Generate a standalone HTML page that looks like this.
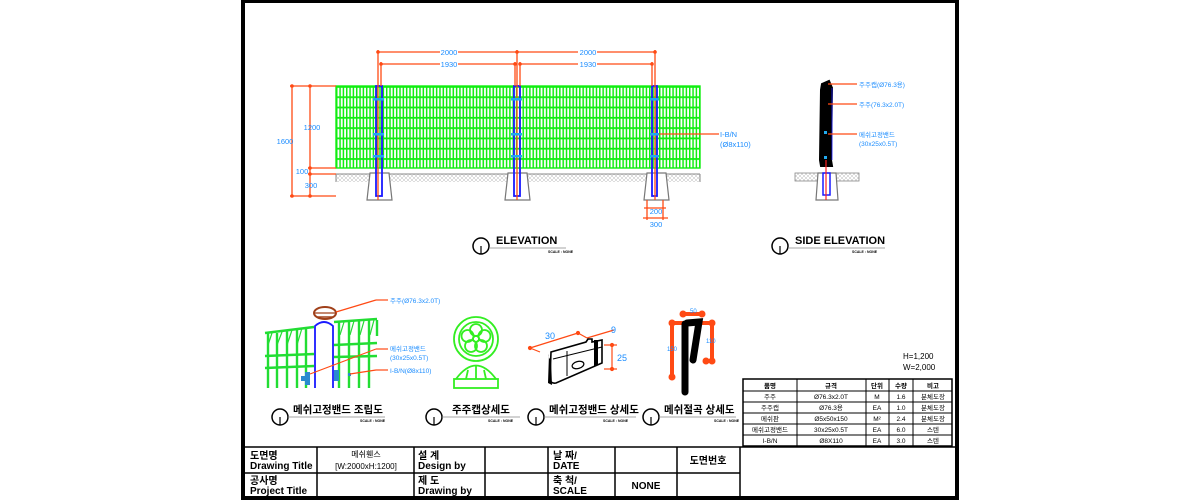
<!DOCTYPE html>
<html><head><meta charset="utf-8"><style>
html,body{margin:0;padding:0;background:#fff;}
svg{display:block;font-family:"Liberation Sans","Noto Sans CJK KR",sans-serif;}
</style></head><body>
<svg width="1200" height="500" viewBox="0 0 1200 500" xmlns="http://www.w3.org/2000/svg">
<defs>
<pattern id="mesh" x="336" y="86" width="3.33" height="10.3" patternUnits="userSpaceOnUse">
<rect x="0" y="0" width="1.5" height="10.3" fill="#11ee11"/>
<rect x="0" y="0" width="3.33" height="1.8" fill="#11ee11"/>
</pattern>
<pattern id="hatch" width="4" height="4" patternUnits="userSpaceOnUse">
<path d="M0 4L4 0M0 0L4 4" stroke="#bbb" stroke-width="0.5"/>
</pattern>
</defs>
<rect x="243" y="1" width="714" height="497" fill="#fff" stroke="#000" stroke-width="4"/>

<!-- ELEVATION -->
<rect x="336" y="86" width="364" height="82" fill="url(#mesh)"/>
<rect x="336" y="86" width="364" height="82" fill="none" stroke="#11ee11" stroke-width="1.4"/>
<rect x="336" y="174" width="364" height="8" fill="url(#hatch)"/>
<line x1="336" y1="174" x2="700" y2="174" stroke="#888" stroke-width="1"/>
<line x1="336" y1="174" x2="336" y2="182" stroke="#888"/><line x1="700" y1="174" x2="700" y2="182" stroke="#888"/>
<g stroke="#777" stroke-width="1.2" fill="#fff">
<path d="M370 173 L389 173 L392 200 L367 200 Z"/>
<path d="M508 173 L527 173 L530 200 L505 200 Z"/>
<path d="M647 173 L666 173 L669 200 L644 200 Z"/>
</g>
<g fill="none" stroke="#1a1aff" stroke-width="1.8">
<rect x="376" y="86" width="6" height="110"/>
<rect x="514" y="86" width="6" height="110"/>
<rect x="652" y="86" width="5" height="110"/>
</g>
<g stroke="#ff4a14" stroke-width="1.3">
<line x1="378" y1="50" x2="378" y2="200"/><line x1="517" y1="50" x2="517" y2="200"/><line x1="655" y1="50" x2="655" y2="200"/>
<line x1="381" y1="62" x2="381" y2="86"/><line x1="515" y1="62" x2="515" y2="86"/><line x1="520" y1="62" x2="520" y2="86"/><line x1="652" y1="62" x2="652" y2="86"/>
<line x1="378" y1="52" x2="440" y2="52"/><line x1="458" y1="52" x2="578" y2="52"/><line x1="597" y1="52" x2="655" y2="52"/>
<line x1="381" y1="64" x2="440" y2="64"/><line x1="458" y1="64" x2="515" y2="64"/><line x1="520" y1="64" x2="578" y2="64"/><line x1="597" y1="64" x2="652" y2="64"/>
<line x1="292" y1="86" x2="292" y2="196"/><line x1="310" y1="86" x2="310" y2="196"/>
<line x1="290" y1="86" x2="336" y2="86"/><line x1="308" y1="168" x2="336" y2="168"/>
<line x1="308" y1="174" x2="336" y2="174"/><line x1="290" y1="196" x2="336" y2="196"/>
<line x1="647" y1="200" x2="647" y2="220"/><line x1="663" y1="200" x2="663" y2="220"/>
<line x1="644" y1="208" x2="666" y2="208"/><line x1="643" y1="218" x2="668" y2="218"/>
<line x1="657" y1="134" x2="719" y2="134"/>
</g>
<g fill="#ff4a14">
<circle cx="378" cy="52" r="1.8"/><circle cx="517" cy="52" r="1.8"/><circle cx="655" cy="52" r="1.8"/>
<circle cx="381" cy="64" r="1.8"/><circle cx="515" cy="64" r="1.8"/><circle cx="520" cy="64" r="1.8"/><circle cx="652" cy="64" r="1.8"/>
<circle cx="292" cy="86" r="1.8"/><circle cx="310" cy="86" r="1.8"/><circle cx="310" cy="168" r="1.8"/><circle cx="310" cy="174" r="1.8"/><circle cx="292" cy="196" r="1.8"/><circle cx="310" cy="196" r="1.8"/>
</g>
<g fill="#22aaee">
<rect x="373" y="98" width="11" height="2.5"/><rect x="373" y="133" width="11" height="2.5"/><rect x="373" y="155" width="11" height="2.5"/>
<rect x="511" y="98" width="11" height="2.5"/><rect x="511" y="133" width="11" height="2.5"/><rect x="511" y="155" width="11" height="2.5"/>
<rect x="650" y="98" width="9" height="2.5"/><rect x="650" y="133" width="9" height="2.5"/><rect x="650" y="155" width="9" height="2.5"/>
</g>
<g fill="#1a8cff" font-size="7.5" text-anchor="middle">
<text x="449" y="55">2000</text><text x="588" y="55">2000</text>
<text x="449" y="67">1930</text><text x="588" y="67">1930</text>
<text x="285" y="144">1600</text><text x="312" y="130">1200</text>
<text x="302" y="174">100</text><text x="311" y="188">300</text>
<text x="656" y="214">200</text><text x="656" y="227">300</text>
<text x="720" y="137" text-anchor="start">I-B/N</text><text x="720" y="147" text-anchor="start">(Ø8x110)</text>
</g>
<g>
<circle cx="481" cy="246" r="8" fill="none" stroke="#000" stroke-width="1.5"/>
<line x1="481" y1="246" x2="481" y2="254" stroke="#000" stroke-width="1.2"/>
<text x="496" y="244" font-size="11" font-weight="bold">ELEVATION</text>
<line x1="489" y1="248" x2="566" y2="248" stroke="#888" stroke-width="0.8"/>
<text x="548" y="253" font-size="3.5" font-weight="bold">SCALE : NONE</text>
</g>

<!-- SIDE ELEVATION -->
<rect x="795" y="173" width="64" height="8" fill="url(#hatch)" stroke="#888" stroke-width="0.8"/>
<path d="M818 173 L836 173 L838 200 L816 200 Z" fill="#fff" stroke="#777" stroke-width="1.2"/>
<rect x="823" y="173" width="7" height="22" fill="none" stroke="#1a1aff" stroke-width="1.5"/>
<path d="M822 84 L829 81 L832 88 L831 160 L832 166 L821 166 L820 160 L821 90 Z" fill="#000" stroke="#000" stroke-width="2"/>
<line x1="832" y1="88" x2="832" y2="160" stroke="#1a1aff" stroke-width="0.8"/>
<line x1="826" y1="160" x2="826" y2="200" stroke="#ff2020" stroke-width="1.2"/>
<rect x="824" y="131" width="3" height="3" fill="#22aaee"/><rect x="824" y="156" width="3" height="3" fill="#22aaee"/>
<g stroke="#ff4a14" stroke-width="1.2">
<line x1="828" y1="84" x2="857" y2="84"/><line x1="828" y1="104" x2="857" y2="104"/><line x1="828" y1="134" x2="857" y2="134"/>
</g>
<g fill="#1a8cff" font-size="6.5">
<text x="859" y="87">주주캡(Ø76.3용)</text><text x="859" y="107">주주(76.3x2.0T)</text>
<text x="859" y="137">메쉬고정밴드</text><text x="859" y="146">(30x25x0.5T)</text>
</g>
<g>
<circle cx="780" cy="246" r="8" fill="none" stroke="#000" stroke-width="1.5"/>
<line x1="780" y1="246" x2="780" y2="254" stroke="#000" stroke-width="1.2"/>
<text x="795" y="244" font-size="11" font-weight="bold">SIDE ELEVATION</text>
<line x1="788" y1="248" x2="885" y2="248" stroke="#888" stroke-width="0.8"/>
<text x="852" y="253" font-size="3.5" font-weight="bold">SCALE : NONE</text>
</g>

<!-- Assembly detail -->
<g stroke="#22dd33" stroke-width="2.4">
<line x1="268" y1="333" x2="268" y2="388"/><line x1="277" y1="333" x2="277" y2="388"/><line x1="287" y1="331" x2="287" y2="388"/><line x1="297" y1="329" x2="297" y2="388"/><line x1="306" y1="327" x2="306" y2="388"/>
<line x1="265" y1="333" x2="314" y2="327"/><line x1="265" y1="356" x2="314" y2="354"/><line x1="265" y1="368" x2="314" y2="366"/>
<line x1="339" y1="322" x2="339" y2="388"/><line x1="349" y1="322" x2="349" y2="388"/><line x1="359" y1="321" x2="359" y2="388"/><line x1="369" y1="320" x2="369" y2="388"/><line x1="377" y1="320" x2="377" y2="336"/>
<line x1="334" y1="322" x2="377" y2="319"/><line x1="334" y1="345" x2="377" y2="343"/><line x1="334" y1="357" x2="377" y2="356"/>
</g>
<g stroke="#22dd33" stroke-width="1.2">
<line x1="272" y1="333" x2="268" y2="345"/><line x1="282" y1="332" x2="277" y2="345"/><line x1="292" y1="330" x2="287" y2="345"/><line x1="302" y1="328" x2="297" y2="345"/>
<line x1="344" y1="322" x2="340" y2="335"/><line x1="354" y1="321" x2="350" y2="335"/><line x1="364" y1="321" x2="360" y2="335"/><line x1="374" y1="320" x2="370" y2="335"/>
</g>
<path d="M315 388 L315 326 Q324 318 333 326 L333 388" fill="#fff" stroke="#1a1aff" stroke-width="1.8"/>
<ellipse cx="325" cy="313" rx="11" ry="6" fill="#fff" stroke="#a0401a" stroke-width="2"/>
<line x1="315" y1="313" x2="335" y2="313" stroke="#a0401a" stroke-width="1.2"/><line x1="317" y1="317" x2="333" y2="317" stroke="#a0401a" stroke-width="1.5"/>
<g fill="#2a8ad0"><rect x="301" y="376" width="9" height="5"/><rect x="305" y="372" width="5" height="13"/><rect x="334" y="370" width="5" height="11"/><rect x="348" y="373" width="3" height="3"/></g>
<g stroke="#ff4a14" stroke-width="1.2">
<line x1="336" y1="312" x2="376" y2="300"/><line x1="376" y1="300" x2="388" y2="300"/>
<line x1="310" y1="374" x2="376" y2="349"/><line x1="376" y1="349" x2="388" y2="349"/>
<line x1="350" y1="374" x2="376" y2="370"/><line x1="376" y1="370" x2="388" y2="370"/>
</g>
<g fill="#1a8cff" font-size="6.5">
<text x="390" y="303">주주(Ø76.3x2.0T)</text><text x="390" y="351">메쉬고정밴드</text><text x="390" y="360">(30x25x0.5T)</text><text x="390" y="373">I-B/N(Ø8x110)</text>
</g>

<!-- Cap detail -->
<g fill="none" stroke="#33ee22" stroke-width="1.8">
<circle cx="476" cy="339" r="22"/><circle cx="476" cy="339" r="17"/>
<circle cx="476" cy="339" r="3"/>
<circle cx="476" cy="330" r="6"/><circle cx="484.5" cy="336" r="6"/><circle cx="481" cy="346" r="6"/><circle cx="471" cy="346" r="6"/><circle cx="467.5" cy="336" r="6"/>
<path d="M456 379 Q476 352 496 379"/><rect x="454" y="379" width="44" height="9"/>
<path d="M468 370 L466 379 M484 370 L486 379 M476 366 L476 379"/>
</g>

<!-- Band detail -->
<g stroke="#ff4a14" stroke-width="1.2" fill="#ff4a14">
<line x1="530" y1="348" x2="578" y2="333"/><line x1="578" y1="333" x2="587" y2="338"/><line x1="587" y1="338" x2="614" y2="330"/>
<line x1="530" y1="348" x2="540" y2="352"/><line x1="604" y1="345" x2="617" y2="345"/><line x1="604" y1="369" x2="617" y2="369"/><line x1="612" y1="345" x2="612" y2="369"/>
<circle cx="578" cy="333" r="1.5"/><circle cx="612" cy="345" r="1.5"/><circle cx="612" cy="369" r="1.5"/><circle cx="530" cy="348" r="1.5"/>
</g>
<path d="M551 352 L586 342 L588 339 L592 339 L592 342 L602 340 L602 363 L556 383 Q550 384 550 378 Z" fill="#fff" stroke="#000" stroke-width="1.6"/>
<path d="M549 354 Q548 358 551 360 L552 385 L548 383 Z" fill="#000"/>
<path d="M553 359 L602 347" stroke="#000" stroke-width="1" fill="none"/>
<path d="M594 340 L594 366 L598 365 L598 340" fill="#000"/>
<ellipse cx="578" cy="365" rx="6" ry="3.5" fill="none" stroke="#000" stroke-width="1.2" transform="rotate(-15 578 365)"/>
<line x1="567" y1="351" x2="567" y2="376" stroke="#000" stroke-width="1"/>
<g fill="#1a8cff" font-size="9"><text x="545" y="339">30</text><text x="611" y="333">9</text><text x="617" y="361">25</text></g>

<!-- Mesh bend detail -->
<g stroke="#ff4a14" stroke-width="4" stroke-linecap="round" fill="none">
<path d="M672 378 L672 323 L683 323"/><path d="M683 314 L702 314"/><path d="M702 323 L712 323 L712 361 L706 361"/>
</g>
<g fill="#ff4a14"><circle cx="683" cy="314" r="3.5"/><circle cx="702" cy="314" r="3.5"/><circle cx="672" cy="323" r="3.5"/><circle cx="712" cy="323" r="3.5"/><circle cx="672" cy="377" r="3.5"/><circle cx="706" cy="361" r="3.5"/><circle cx="712" cy="361" r="3.5"/></g>
<g stroke="#000" stroke-width="7" stroke-linecap="round" fill="none">
<path d="M685 324 L685 392"/><path d="M687 323 L699 322 L693 360"/>
</g>
<g fill="#1a8cff" font-size="6"><text x="690" y="313">50</text><text x="667" y="351">150</text><text x="706" y="343">110</text></g>

<!-- detail titles -->
<g font-size="10.5" font-weight="bold">
<text x="293" y="413">메쉬고정밴드 조립도</text>
<text x="452" y="413">주주캡상세도</text>
<text x="549" y="413">메쉬고정밴드 상세도</text>
<text x="664" y="413">메쉬절곡 상세도</text>
</g>
<g fill="none" stroke="#000" stroke-width="1.5">
<circle cx="280" cy="417" r="8"/><circle cx="434" cy="417" r="8"/><circle cx="536" cy="417" r="8"/><circle cx="651" cy="417" r="8"/>
</g>
<g stroke="#000" stroke-width="1.2"><line x1="280" y1="417" x2="280" y2="425"/><line x1="434" y1="417" x2="434" y2="425"/><line x1="536" y1="417" x2="536" y2="425"/><line x1="651" y1="417" x2="651" y2="425"/></g>
<g stroke="#888" stroke-width="0.8"><line x1="288" y1="417" x2="385" y2="417"/><line x1="442" y1="417" x2="520" y2="417"/><line x1="544" y1="417" x2="636" y2="417"/><line x1="659" y1="417" x2="736" y2="417"/></g>
<g font-size="3.5" font-weight="bold"><text x="360" y="422">SCALE : NONE</text><text x="488" y="422">SCALE : NONE</text><text x="603" y="422">SCALE : NONE</text><text x="714" y="422">SCALE : NONE</text></g>

<g font-size="8"><text x="903" y="359">H=1,200</text><text x="903" y="370">W=2,000</text></g>

<!-- parts table -->
<g stroke="#000" fill="none">
<rect x="743" y="379" width="209" height="67" stroke-width="1.5"/>
<g stroke-width="1"><line x1="743" y1="391" x2="952" y2="391"/><line x1="743" y1="402" x2="952" y2="402"/><line x1="743" y1="413" x2="952" y2="413"/><line x1="743" y1="424" x2="952" y2="424"/><line x1="743" y1="435" x2="952" y2="435"/>
<line x1="797" y1="379" x2="797" y2="446"/><line x1="866" y1="379" x2="866" y2="446"/><line x1="889" y1="379" x2="889" y2="446"/><line x1="913" y1="379" x2="913" y2="446"/></g>
</g>
<g font-size="6.5" text-anchor="middle">
<text x="770" y="388" font-weight="bold">품명</text><text x="831" y="388" font-weight="bold">규격</text><text x="877" y="388" font-weight="bold">단위</text><text x="901" y="388" font-weight="bold">수량</text><text x="933" y="388" font-weight="bold">비고</text>
<text x="770" y="399">주주</text><text x="831" y="399">Ø76.3x2.0T</text><text x="877" y="399">M</text><text x="901" y="399">1.6</text><text x="933" y="399">분체도장</text>
<text x="770" y="410">주주캡</text><text x="831" y="410">Ø76.3용</text><text x="877" y="410">EA</text><text x="901" y="410">1.0</text><text x="933" y="410">분체도장</text>
<text x="770" y="421">메쉬판</text><text x="831" y="421">Ø5x50x150</text><text x="877" y="421">M²</text><text x="901" y="421">2.4</text><text x="933" y="421">분체도장</text>
<text x="770" y="432">메쉬고정밴드</text><text x="831" y="432">30x25x0.5T</text><text x="877" y="432">EA</text><text x="901" y="432">6.0</text><text x="933" y="432">스텐</text>
<text x="770" y="443">I-B/N</text><text x="831" y="443">Ø8X110</text><text x="877" y="443">EA</text><text x="901" y="443">3.0</text><text x="933" y="443">스텐</text>
</g>

<!-- title block -->
<g stroke="#000" stroke-width="1.5">
<line x1="245" y1="447" x2="955" y2="447"/><line x1="245" y1="473" x2="740" y2="473"/>
<line x1="317" y1="447" x2="317" y2="497"/><line x1="414" y1="447" x2="414" y2="497"/><line x1="485" y1="447" x2="485" y2="497"/><line x1="548" y1="447" x2="548" y2="497"/><line x1="615" y1="447" x2="615" y2="497"/><line x1="677" y1="447" x2="677" y2="497"/><line x1="740" y1="447" x2="740" y2="497"/>
</g>
<g font-size="10" font-weight="bold">
<text x="250" y="459">도면명</text><text x="250" y="469">Drawing Title</text>
<text x="250" y="484">공사명</text><text x="250" y="494">Project Title</text>
<text x="418" y="459">설 계</text><text x="418" y="469">Design by</text>
<text x="418" y="484">제 도</text><text x="418" y="494">Drawing by</text>
<text x="553" y="459">날 짜/</text><text x="553" y="469">DATE</text>
<text x="553" y="484">축 척/</text><text x="553" y="494">SCALE</text>
<text x="708" y="464" text-anchor="middle">도면번호</text>
<text x="646" y="489" text-anchor="middle">NONE</text>
</g>
<g font-size="8" text-anchor="middle"><text x="366" y="457">메쉬휀스</text><text x="366" y="469">[W:2000xH:1200]</text></g>
</svg>
</body></html>
